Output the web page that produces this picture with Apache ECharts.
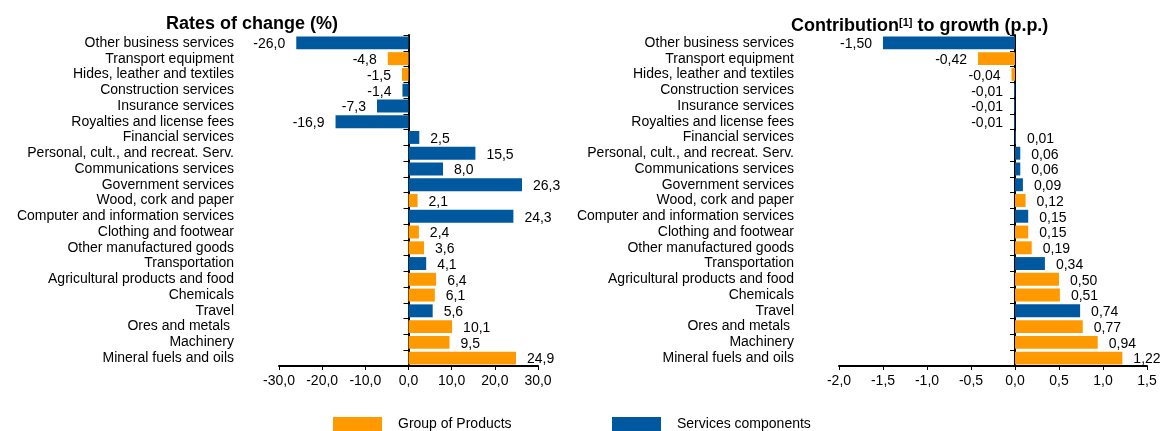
<!DOCTYPE html>
<html lang="en">
<head>
    <meta charset="utf-8" />
    <title>Rates of change and contribution to growth</title>
    <script src="https://cdn.jsdelivr.net/npm/echarts@6/dist/echarts.min.js"></script>
    <style>
        body { margin: 0; background: #fff; }
    </style>
</head>
<body>
<div id="main" style="width: 1165px;height:431px;"></div>
<script type="text/javascript">
    // categories, top to bottom
    var categories = [
        'Other business services', 'Transport equipment', 'Hides, leather and textiles',
        'Construction services', 'Insurance services', 'Royalties and license fees',
        'Financial services', 'Personal, cult., and recreat. Serv.', 'Communications services',
        'Government services', 'Wood, cork and paper', 'Computer and information services',
        'Clothing and footwear', 'Other manufactured goods', 'Transportation',
        'Agricultural products and food', 'Chemicals', 'Travel', 'Ores and metals ',
        'Machinery', 'Mineral fuels and oils'
    ];
    // P = group of products, S = services components
    var kinds = ['S','P','P','S','S','S','S','S','S','S','P','S','P','P','S','P','P','S','P','P','P'];
    // rates of change (%)
    var rates = [-26.0, -4.8, -1.5, -1.4, -7.3, -16.9, 2.5, 15.5, 8.0, 26.3, 2.1, 24.3, 2.4, 3.6, 4.1, 6.4, 6.1, 5.6, 10.1, 9.5, 24.9];
    // contribution to growth (p.p.)
    var contrib = [-1.50, -0.42, -0.04, -0.01, -0.01, -0.01, 0.01, 0.06, 0.06, 0.09, 0.12, 0.15, 0.15, 0.19, 0.34, 0.50, 0.51, 0.74, 0.77, 0.94, 1.22];

    var FONT = 'Liberation Sans, Arial, sans-serif';
    var ORANGE = '#FF9900';
    var BLUE = '#00599F';

    function comma(v, d) { return Number(v).toFixed(d).replace('.', ','); }

    // one series per kind, the other kind left empty
    function mk(vals, kind) {
        return vals.map(function (v, i) {
            if (kinds[i] !== kind) return '-';
            return { value: v, label: { position: v < 0 ? 'left' : 'right' } };
        });
    }

    function barSeries(name, color, vals, kind, idx, dec) {
        return {
            name: name,
            type: 'bar',
            xAxisIndex: idx,
            yAxisIndex: idx,
            stack: 'g' + idx,
            barCategoryGap: '18%',
            itemStyle: { color: color },
            label: {
                show: true,
                distance: 11,
                offset: [0, 1.5],
                fontFamily: FONT,
                fontSize: 14,
                color: '#000',
                formatter: function (p) { return comma(p.value, dec); }
            },
            data: mk(vals, kind)
        };
    }

    function yAxis(idx) {
        return {
            type: 'category',
            gridIndex: idx,
            data: categories,
            inverse: true,
            axisLine: { onZero: true, lineStyle: { color: '#000', width: 2 } },
            axisTick: { show: true, length: 5, lineStyle: { color: '#000', width: 1 } },
            // labels stay at the grid's left edge
            axisLabel: { interval: 0, margin: 45, fontFamily: FONT, fontSize: 14, color: '#000' },
            splitLine: { show: false }
        };
    }

    function xAxis(idx, min, max, interval, dec) {
        return {
            type: 'value',
            gridIndex: idx,
            min: min,
            max: max,
            interval: interval,
            axisLine: { show: true, lineStyle: { color: '#000', width: 2 } },
            axisTick: { show: true, length: 4, lineStyle: { color: '#000' } },
            axisLabel: {
                margin: 8, fontFamily: FONT, fontSize: 14, color: '#000',
                formatter: function (v) { return comma(v, dec); }
            },
            splitLine: { show: false }
        };
    }

    var myChart = echarts.init(document.getElementById('main'), null, { renderer: 'canvas' });

    var option = {
        animation: false,
        backgroundColor: '#fff',
        title: [
            {
                text: 'Rates of change (%)',
                left: 161, top: 10,
                textStyle: { fontFamily: FONT, fontSize: 18, fontWeight: 'bold', color: '#000' }
            },
            {
                text: '{a|Contribution}{s|[1]}{a| to growth (p.p.)}',
                left: 786, top: 12,
                textStyle: {
                    fontFamily: FONT,
                    rich: {
                        a: { fontFamily: FONT, fontSize: 18, fontWeight: 'bold', color: '#000' },
                        s: { fontFamily: FONT, fontSize: 11, fontWeight: 'bold', color: '#000', verticalAlign: 'top' }
                    }
                }
            }
        ],
        legend: [
            {
                data: ['Group of Products'],
                left: 328, top: 412,
                icon: 'rect', itemWidth: 49, itemHeight: 15,
                textStyle: { fontFamily: FONT, fontSize: 14, color: '#000', padding: [0, 0, 0, 11] }
            },
            {
                data: ['Services components'],
                left: 607, top: 412,
                icon: 'rect', itemWidth: 49, itemHeight: 15,
                textStyle: { fontFamily: FONT, fontSize: 14, color: '#000', padding: [0, 0, 0, 11] }
            }
        ],
        grid: [
            { left: 279, right: 627, top: 35, bottom: 65, containLabel: false, outerBoundsMode: 'none' },
            { left: 839, right: 18, top: 35, bottom: 65, containLabel: false, outerBoundsMode: 'none' }
        ],
        xAxis: [
            xAxis(0, -30, 30, 10, 1),
            xAxis(1, -2, 1.5, 0.5, 1)
        ],
        yAxis: [
            yAxis(0),
            yAxis(1)
        ],
        series: [
            barSeries('Group of Products', ORANGE, rates, 'P', 0, 1),
            barSeries('Services components', BLUE, rates, 'S', 0, 1),
            barSeries('Group of Products', ORANGE, contrib, 'P', 1, 2),
            barSeries('Services components', BLUE, contrib, 'S', 1, 2)
        ]
    };
    myChart.setOption(option);
</script>
</body>
</html>
